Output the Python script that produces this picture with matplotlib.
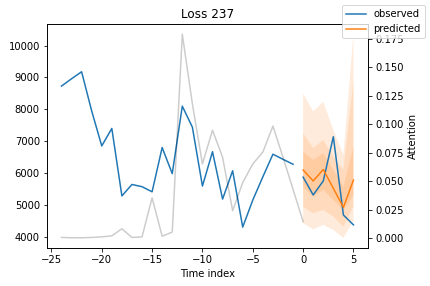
import numpy as np
import matplotlib
matplotlib.use('Agg')
import matplotlib.pyplot as plt

# encoder (history) observations
x_enc = np.arange(-24, 0)
y_enc = [8730, 8960, 9180, 7950, 6850, 7400, 5280, 5640, 5570, 5410,
         6800, 5980, 8100, 7440, 5590, 6670, 5180, 6070, 4300, 5150,
         5880, 6590, 6430, 6275]

# decoder (future) observations and prediction
x_dec = np.arange(0, 6)
y_dec = [5870, 5310, 5750, 7140, 4680, 4370]
y_pred = [6095, 5750, 6110, 5520, 4920, 5780]

# quantile bands: (lower, upper) pairs, outer -> inner
q02 = [4420, 4230, 4370, 4210, 3965, 4500]
q98 = [8500, 7930, 8240, 7350, 6570, 10360]
q10 = [4940, 4735, 4840, 4630, 4310, 4950]
q90 = [7250, 6780, 7040, 6510, 6100, 8900]
q25 = [5570, 5260, 5470, 5150, 4840, 5300]
q75 = [6670, 6410, 6620, 6100, 5570, 6830]

# attention weights
x_att = np.arange(-24, 1)
attention = [0.0009, 0.0006, 0.0006, 0.0009, 0.0014, 0.0023, 0.0085, 0.0009,
             0.0014, 0.0356, 0.0020, 0.0056, 0.179, 0.118, 0.0653, 0.0949,
             0.0712, 0.0243, 0.049, 0.0653, 0.0757, 0.0985, 0.0712, 0.043,
             0.0148]

fig, ax = plt.subplots(figsize=(430 / 72, 286 / 72), dpi=72)
fig.subplots_adjust(left=0.109, right=0.856, top=0.916, bottom=0.133)

obs_color = 'tab:blue'
pred_color = 'tab:orange'

ax.plot(x_enc, y_enc, label='observed', c=obs_color)
ax.plot(x_dec, y_dec, c=obs_color)
ax.plot(x_dec, y_pred, label='predicted', c=pred_color)
for lo, hi in [(q02, q98), (q10, q90), (q25, q75)]:
    ax.fill_between(x_dec, lo, hi, alpha=0.15, fc=pred_color)

ax2 = ax.twinx()
ax2.plot(x_att, attention, alpha=0.2, color='k')
ax2.set_ylabel('Attention')

ax.set_xlabel('Time index')
ax.set_title('Loss 237')
fig.legend()

fig.savefig('out.png', dpi=72)
